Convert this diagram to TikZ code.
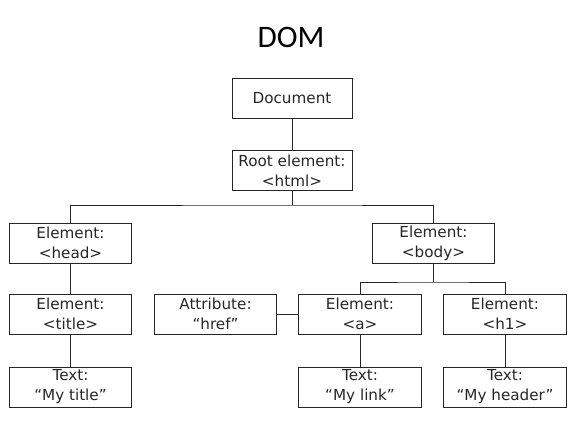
\documentclass[tikz,border=0pt]{standalone}
\usepackage{fontspec}
\newfontfamily\boxfont{DejaVu Sans}
\newfontfamily\titlefont{Carlito}
\usepackage{tikz}
\tikzset{>=latex}
\tikzset{domnode/.style = {draw, line width = 0.7pt, minimum width = 92pt, minimum height = 30pt, inner sep = 0pt, align = center, font = \boxfont\fontsize{11.4}{15}\selectfont}}
\tikzset{link/.style = {line width = 0.7pt}}

\begin{document}
\begin{tikzpicture}[x = 0.75pt, y = -0.75pt, black!85]
\useasboundingbox (0,0) rectangle (577,433);
\node[black] (dom) at (291, 37) {\titlefont\fontsize{23.5}{28}\selectfont DOM};
\node[domnode, minimum width = 90pt] (doc) at (292, 98) {Document};
\node[domnode, minimum width = 90pt] (root) at (292, 170.5) {Root element:\\<html>};
\node[domnode] (head) at (70.5, 243) {Element:\\<head>};
\node[domnode] (body) at (433.5, 243) {Element:\\<body>};
\node[domnode] (title) at (70.5, 314) {Element:\\<title>};
\node[domnode] (attr) at (215.5, 314) {Attribute:\\“href”};
\node[domnode] (a) at (360, 314) {Element:\\<a>};
\node[domnode] (h1) at (505, 314) {Element:\\<h1>};
\node[domnode] (ttext) at (70.5, 387) {Text:\\“My title”};
\node[domnode] (atext) at (360, 387) {Text:\\“My link”};
\node[domnode] (htext) at (505, 387) {Text:\\“My header”};
\coordinate (bus) at (292, 205);
\coordinate (bodybus) at (433.5, 282);
\draw[link] (doc) -- (root);
\draw[link] (root) -- (bus);
\draw[link] (head.north) |- (bus) -| (body.north);
\draw[link] (body) -- (bodybus);
\draw[link] (a.north) |- (bodybus) -| (h1.north);
\draw[link] (head) -- (title);
\draw[link] (title) -- (ttext);
\draw[link] (attr) -- (a);
\draw[link] (a) -- (atext);
\draw[link] (h1) -- (htext);
\end{tikzpicture}
\end{document}
